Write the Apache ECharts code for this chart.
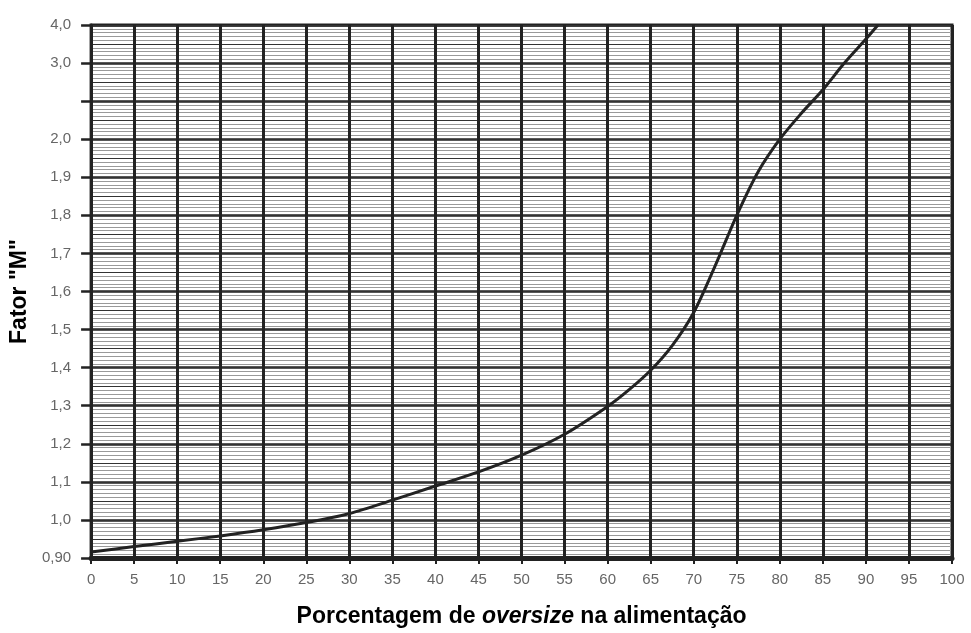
<!DOCTYPE html>
<html>
<head>
<meta charset="utf-8">
<script src="https://cdn.jsdelivr.net/npm/echarts@6/dist/echarts.min.js"></script>
<style>
  html, body { margin: 0; padding: 0; background: #fff; }
  #chart { width: 971px; height: 633px; }
</style>
</head>
<body>
<div id="chart"></div>
<script>
// porcentagem de oversize (eixo x) e fator M
var pctOversize = [0, 5, 10, 15, 20, 25, 30, 35, 40, 45, 50, 55, 60, 62.5, 65, 67.5, 70, 72.5, 75, 77.5, 80, 82.5, 85, 87.5, 90, 91.4];
var fatorM = [0.916, 0.930, 0.944, 0.958, 0.974, 0.993, 1.017, 1.052, 1.089, 1.126, 1.170, 1.225, 1.298, 1.342, 1.393, 1.458, 1.545, 1.668, 1.800, 1.915, 2.000, 2.340, 2.650, 3.000, 3.630, 4.000];

// rótulos do eixo y (faixas iguais: 0,90 ... 2,0 / 2,5 / 3,0 / 4,0)
var yTickLabels = ['0,90', '1,0', '1,1', '1,2', '1,3', '1,4', '1,5', '1,6', '1,7', '1,8', '1,9', '2,0', '', '3,0', '4,0'];

// escala do gráfico: cada faixa = 0,1 até 2,0; depois 0,5; depois 1,0
function toBand(m) {
    if (m <= 2) return (m - 0.9) / 0.1;
    if (m <= 3) return 11 + (m - 2) / 0.5;
    return 13 + (m - 3);
}

var curve = pctOversize.map(function (x, i) { return [x, toBand(fatorM[i])]; });

var chart = echarts.init(document.getElementById('chart'));
chart.setOption({
    animation: false,
    grid: { left: 90, right: 19, top: 25, bottom: 73, show: true, borderColor: '#222', borderWidth: 3 },
    xAxis: [{
        type: 'value',
        min: 0, max: 100, interval: 5,
        name: '{b|Porcentagem de }{i|oversize}{b| na alimentação}',
        nameLocation: 'middle',
        nameGap: 47,
        nameTextStyle: {
            rich: {
                b: { fontFamily: 'Liberation Sans', fontWeight: 'bold', fontSize: 23, color: '#000' },
                i: { fontFamily: 'Liberation Sans', fontWeight: 'bold', fontStyle: 'italic', fontSize: 23, color: '#000' }
            }
        },
        axisLine: { lineStyle: { color: '#222', width: 4 } },
        axisTick: { length: 6, lineStyle: { color: '#222', width: 2 } },
        axisLabel: { color: '#666', fontFamily: 'Liberation Sans', fontSize: 15, margin: 14 },
        splitLine: { show: true, lineStyle: { color: '#222', width: 3 } }
    }, {
        type: 'value', position: 'top',
        min: 0, max: 100,
        axisLine: { show: true, lineStyle: { color: '#222', width: 5 } },
        axisTick: { show: false }, axisLabel: { show: false }, splitLine: { show: false }
    }],
    yAxis: [{
        type: 'value',
        min: 0, max: 14, interval: 1,
        name: 'Fator "M"',
        nameLocation: 'middle',
        nameRotate: 90,
        nameGap: 58,
        nameTextStyle: { fontFamily: 'Liberation Sans', fontWeight: 'bold', fontSize: 23, color: '#000' },
        axisLine: { show: true, lineStyle: { color: '#222', width: 3 } },
        axisTick: { show: true, length: 10, lineStyle: { color: '#222', width: 2.5 } },
        axisLabel: {
            color: '#666', fontFamily: 'Liberation Sans', fontSize: 15, margin: 20,
            formatter: function (v) { return yTickLabels[Math.round(v)]; }
        },
        splitLine: { show: true, lineStyle: { color: '#222', width: 2.5 } },
        minorTick: { show: false, splitNumber: 10 },
        minorSplitLine: { show: true, lineStyle: { color: '#999', width: 1 } }
    }, {
        type: 'value', position: 'left',
        min: 0, max: 14, interval: 0.5,
        axisLine: { show: false }, axisTick: { show: false }, axisLabel: { show: false },
        splitLine: { show: true, lineStyle: { color: '#333', width: 1.2 } }
    }],
    series: [{
        type: 'line',
        data: curve,
        smooth: 0.3,
        showSymbol: false,
        z: 5,
        lineStyle: { color: '#222', width: 3 }
    }]
});
</script>
</body>
</html>
